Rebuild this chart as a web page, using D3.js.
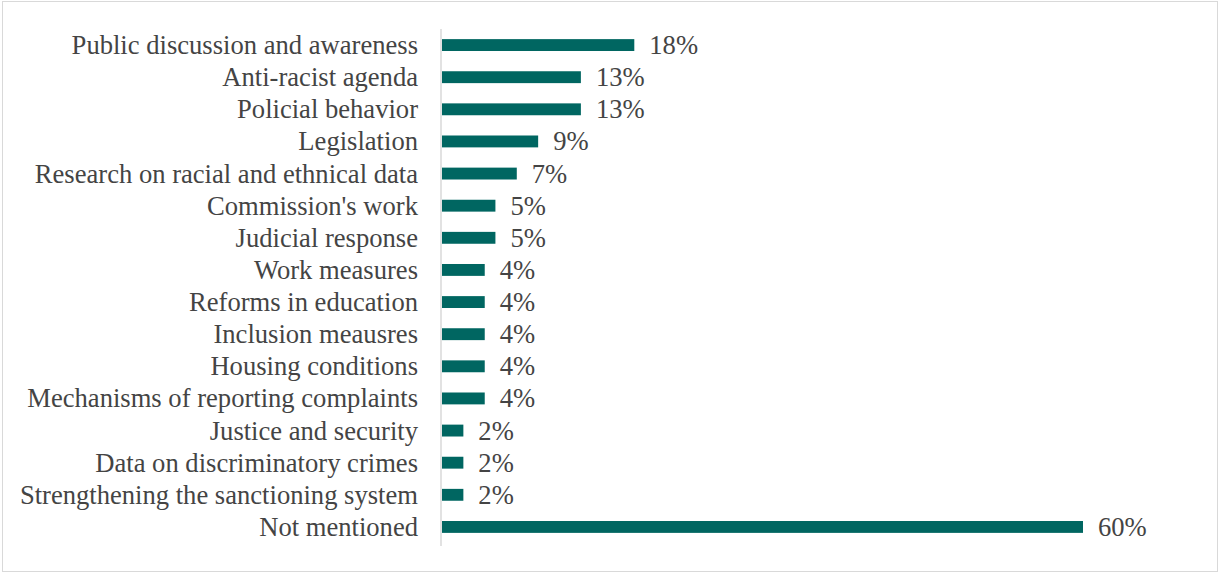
<!DOCTYPE html>
<html>
<head>
<meta charset="utf-8">
<script src="https://cdn.jsdelivr.net/npm/d3@7"></script>
<style>
  html, body { margin: 0; padding: 0; background: #ffffff; }
  svg { display: block; }
  text { font-family: "Liberation Serif", "Times New Roman", serif; fill: #444444; }
</style>
</head>
<body>
<svg id="chart" width="1220" height="574"></svg>
<script>
// Measures named in responses, top to bottom
const categories = [
  "Public discussion and awareness",
  "Anti-racist agenda",
  "Policial behavior",
  "Legislation",
  "Research on racial and ethnical data",
  "Commission's work",
  "Judicial response",
  "Work measures",
  "Reforms in education",
  "Inclusion meausres",
  "Housing conditions",
  "Mechanisms of reporting complaints",
  "Justice and security",
  "Data on discriminatory crimes",
  "Strengthening the sanctioning system",
  "Not mentioned"
];
// Share of responses, in percent
const shares = [18, 13, 13, 9, 7, 5, 5, 4, 4, 4, 4, 4, 2, 2, 2, 60];

const W = 1220, H = 574;
const FONT = 26.6;
const svg = d3.select("#chart");

// outer frame
svg.append("rect")
  .attr("x", 2.5).attr("y", 1.5)
  .attr("width", W - 5).attr("height", H - 4)
  .attr("fill", "#ffffff")
  .attr("stroke", "#d9d9d9").attr("stroke-width", 1);

const plot = { left: 442, right: 1083, top: 29, bottom: 543 };

const x = d3.scaleLinear().domain([0, 60]).range([plot.left, plot.right]);
const y = d3.scaleBand()
  .domain(categories)
  .range([plot.top, plot.bottom])
  .paddingInner(0.63)
  .paddingOuter(0.315);

const rows = categories.map((c, i) => ({ cat: c, val: shares[i] }));

// bars
svg.append("g").selectAll("rect")
  .data(rows)
  .join("rect")
  .attr("x", x(0))
  .attr("y", d => y(d.cat))
  .attr("width", d => x(d.val) - x(0))
  .attr("height", y.bandwidth())
  .attr("fill", "#006661");

// category axis
const yAxis = svg.append("g")
  .attr("transform", `translate(${plot.left - 1},0)`)
  .call(d3.axisLeft(y).tickSize(0).tickPadding(23));
yAxis.select(".domain")
  .attr("stroke", "#d9d9d9").attr("stroke-width", 1.5)
  .attr("d", `M0,${plot.top}V${plot.bottom + 3}`);
yAxis.selectAll("text")
  .attr("font-size", FONT)
  .attr("dy", "0.34em")
  .attr("fill", "#444444")
  .style("font-family", "'Liberation Serif', 'Times New Roman', serif");

// value labels
svg.append("g").selectAll("text")
  .data(rows)
  .join("text")
  .attr("x", d => x(d.val) + 15)
  .attr("y", d => y(d.cat) + y.bandwidth() / 2)
  .attr("dy", "0.34em")
  .attr("font-size", FONT)
  .text(d => d.val + "%");
</script>
</body>
</html>
